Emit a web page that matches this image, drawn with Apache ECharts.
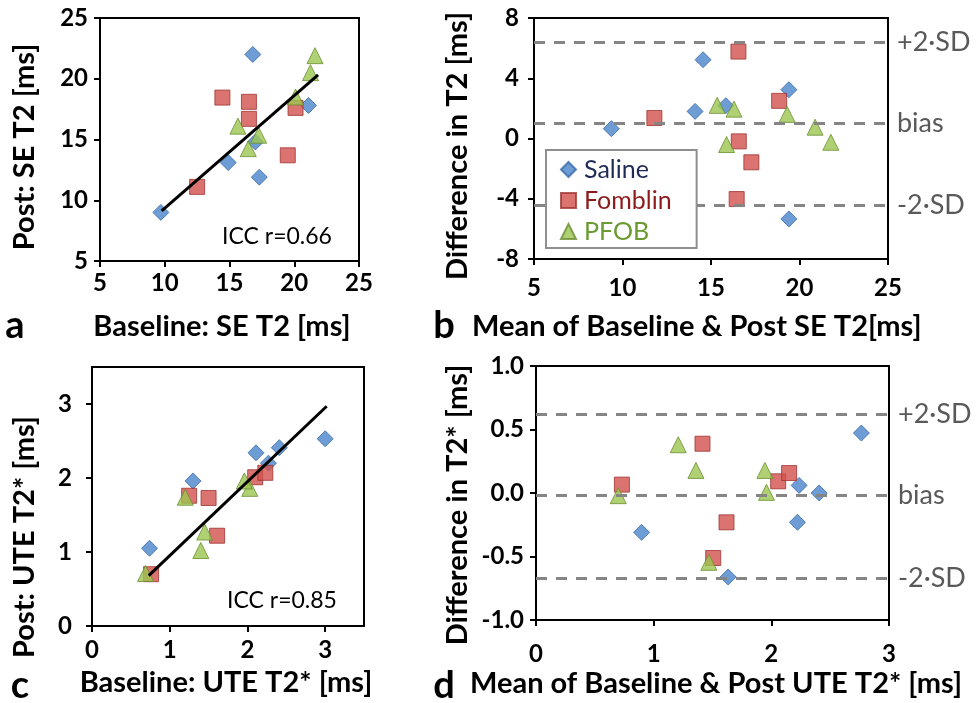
<!DOCTYPE html>
<html>
<head>
<meta charset="utf-8">
<script src="https://cdn.jsdelivr.net/npm/echarts@6/dist/echarts.min.js"></script>
<style>
  html, body { margin: 0; padding: 0; background: #fff; }
  #chart { width: 978px; height: 703px; }
</style>
</head>
<body>
<div id="chart"></div>
<script>
// panel a: baseline vs post SE T2 [ms]
var salineA = [[9.7, 9.0], [16.8, 22.0], [14.9, 13.1], [17.3, 11.9], [21.1, 17.8], [17.0, 14.8]];
var fomblinA = [[12.5, 11.1], [19.5, 13.7], [20.1, 17.6], [16.5, 16.7], [16.5, 18.1], [14.45, 18.45]];
var pfobA = [[16.45, 14.25], [17.25, 15.35], [20.1, 18.5], [15.65, 16.1], [21.25, 20.5], [21.6, 21.9]];
var fitA = [[9.76, 9.13], [21.84, 20.32]];

// panel b: mean vs difference, SE T2
var salineB = [[9.37, 0.65], [14.55, 5.23], [14.1, 1.8], [15.84, 2.18], [19.4, 3.24], [19.4, -5.34]];
var fomblinB = [[11.8, 1.36], [16.55, 5.77], [18.85, 2.5], [16.57, -0.19], [17.28, -1.58], [16.45, -4.02]];
var pfobB = [[15.35, 2.2], [16.3, 1.95], [19.3, 1.6], [15.88, -0.4], [20.88, 0.75], [21.77, -0.25]];
var limitsB = [6.41, 0.98, -4.44];

// panel c: baseline vs post UTE T2* [ms]
var salineC = [[0.74, 1.05], [1.3, 1.96], [2.11, 2.34], [2.27, 2.2], [2.41, 2.41], [3.0, 2.53]];
var fomblinC = [[0.76, 0.7], [1.61, 1.22], [1.5, 1.73], [1.25, 1.76], [2.1, 2.01], [2.23, 2.07]];
var pfobC = [[0.69, 0.71], [1.4, 1.02], [1.45, 1.27], [1.2, 1.74], [2.03, 1.86], [1.96, 1.96]];
var fitC = [[0.73, 0.68], [3.02, 2.97]];

// panel d: mean vs difference, UTE T2*
var salineD = [[0.897, -0.31], [1.633, -0.661], [2.222, -0.231], [2.236, 0.06], [2.406, 0.0], [2.765, 0.472]];
var fomblinD = [[0.73, 0.066], [1.415, 0.388], [1.619, -0.231], [1.506, -0.512], [2.058, 0.092], [2.151, 0.157]];
var pfobD = [[0.699, -0.021], [1.209, 0.38], [1.359, 0.178], [1.469, -0.546], [1.945, 0.178], [1.959, 0.005]];
var limitsD = [0.62, -0.021, -0.667];

var limitNames = ['+2\u00b7SD', 'bias', '-2\u00b7SD'];
var groupNames = ['Saline', 'Fomblin', 'PFOB'];
var groupText = ['#1f2a56', '#8c1c1c', '#6a9a30'];

var FONT = 'Lato, "DejaVu Sans", sans-serif';

var chart = echarts.init(document.getElementById('chart'));

function axis(idx, min, max, interval, margin, custom, fmt) {
    var a = {
        type: 'value',
        gridIndex: idx,
        min: min,
        max: max,
        interval: interval,
        splitLine: {show: false},
        axisLine: {onZero: false, lineStyle: {color: '#000', width: 2}},
        axisTick: {length: 6, lineStyle: {color: '#000', width: 2}},
        axisLabel: {
            margin: margin,
            color: '#000',
            fontFamily: FONT,
            fontWeight: 'bold',
            fontSize: 24
        }
    };
    if (fmt) a.axisLabel.formatter = fmt;
    if (custom) {
        a.axisTick.customValues = custom;
        a.axisLabel.customValues = custom;
    }
    return a;
}

var markerStyles = [
    {symbol: 'diamond', symbolSize: 16, itemStyle: {color: '#4a84cb', borderColor: '#3a6aa8', borderWidth: 1}},
    {symbol: 'rect', symbolSize: 15, itemStyle: {color: '#d2504d', borderColor: '#9e3431', borderWidth: 1}},
    {symbol: 'triangle', symbolSize: 16, itemStyle: {color: '#9cc650', borderColor: '#6a8f30', borderWidth: 1}}
];

function scatter(name, k, idx, data) {
    return {
        name: name,
        type: 'scatter',
        xAxisIndex: idx,
        yAxisIndex: idx,
        data: data,
        symbol: markerStyles[k].symbol,
        symbolSize: markerStyles[k].symbolSize,
        itemStyle: markerStyles[k].itemStyle,
        emphasis: {disabled: true}
    };
}

function fitLine(idx, data) {
    return {
        type: 'line',
        xAxisIndex: idx,
        yAxisIndex: idx,
        data: data,
        symbol: 'none',
        z: 5,
        lineStyle: {color: '#000', width: 3}
    };
}

function limitLines(idx, values) {
    return {
        type: 'line',
        xAxisIndex: idx,
        yAxisIndex: idx,
        data: [],
        z: 1,
        markLine: {
            silent: true,
            symbol: 'none',
            animation: false,
            lineStyle: {color: '#858585', width: 3, type: [11, 9]},
            label: {
                position: 'end',
                distance: 9,
                color: '#595959',
                fontFamily: FONT,
                fontSize: 27,
                padding: [10, 0, 0, 0],
                formatter: function (p) { return limitNames[p.dataIndex]; }
            },
            data: values.map(function (v) { return {yAxis: v}; })
        }
    };
}

function txt(text, x, y, size, opts) {
    opts = opts || {};
    return {
        type: 'text',
        x: x,
        y: y,
        rotation: opts.rot || 0,
        style: {
            text: text,
            fill: opts.color || '#000',
            font: (opts.weight || 'bold') + ' ' + size + 'px ' + FONT,
            align: opts.align || 'center',
            verticalAlign: 'middle'
        }
    };
}

var option = {
    animation: false,
    grid: [
        {left: 100, top: 18, width: 259, height: 243, show: true, borderColor: '#000', borderWidth: 2, outerBoundsMode: 'none'},
        {left: 534, top: 18, width: 354, height: 241, show: true, borderColor: '#000', borderWidth: 2, outerBoundsMode: 'none'},
        {left: 92, top: 367, width: 272, height: 259, show: true, borderColor: '#000', borderWidth: 2, outerBoundsMode: 'none'},
        {left: 536, top: 366, width: 353, height: 254, show: true, borderColor: '#000', borderWidth: 2, outerBoundsMode: 'none'}
    ],
    xAxis: [
        axis(0, 5, 25, 5, 10),
        axis(1, 5, 25, 5, 17),
        axis(2, 0, 3.5, 1, 12, [0, 1, 2, 3]),
        axis(3, 0, 3, 1, 22)
    ],
    yAxis: [
        axis(0, 5, 25, 5, 12),
        axis(1, -8, 8, 4, 15),
        axis(2, 0, 3.5, 1, 20, [0, 1, 2, 3]),
        axis(3, -1, 1, 0.5, 12, null, function (v) { return v.toFixed(1); })
    ],
    legend: {
        orient: 'vertical',
        left: 546,
        top: 150,
        z: 20,
        padding: [7, 25, 4, 14],
        itemGap: 6,
        itemWidth: 15,
        itemHeight: 15,
        backgroundColor: '#fff',
        borderColor: '#8f8f8f',
        borderWidth: 2,
        selectedMode: false,
        textStyle: {fontFamily: FONT, fontSize: 25, padding: [0, 0, 0, 3]},
        data: groupNames.map(function (n, i) {
            return {name: n, textStyle: {color: groupText[i]}};
        })
    },
    series: [
        scatter('Saline', 0, 0, salineA),
        scatter('Fomblin', 1, 0, fomblinA),
        scatter('PFOB', 2, 0, pfobA),
        fitLine(0, fitA),
        limitLines(1, limitsB),
        scatter('Saline', 0, 1, salineB),
        scatter('Fomblin', 1, 1, fomblinB),
        scatter('PFOB', 2, 1, pfobB),
        scatter('Saline', 0, 2, salineC),
        scatter('Fomblin', 1, 2, fomblinC),
        scatter('PFOB', 2, 2, pfobC),
        fitLine(2, fitC),
        limitLines(3, limitsD),
        scatter('Saline', 0, 3, salineD),
        scatter('Fomblin', 1, 3, fomblinD),
        scatter('PFOB', 2, 3, pfobD)
    ],
    graphic: [
        txt('Post: SE T2 [ms]', 25, 147, 29, {rot: Math.PI / 2}),
        txt('Baseline: SE T2 [ms]', 222, 327, 29),
        txt('a', 15, 326, 38),
        txt('ICC r=0.66', 277, 237, 23, {weight: 'normal'}),
        txt('Difference in T2 [ms]', 458, 146, 29, {rot: Math.PI / 2}),
        txt('b', 444, 326, 38),
        txt('Mean of Baseline & Post SE T2[ms]', 472, 327, 29, {align: 'left'}),
        txt('Post: UTE T2* [ms]', 25, 537, 29, {rot: Math.PI / 2}),
        txt('Baseline: UTE T2* [ms]', 226, 683, 29),
        txt('c', 20, 686, 38),
        txt('ICC r=0.85', 282, 601, 23, {weight: 'normal'}),
        txt('Difference in T2* [ms]', 458, 505, 29, {rot: Math.PI / 2}),
        txt('d', 444, 686, 38),
        txt('Mean of Baseline & Post UTE T2* [ms]', 470, 684, 29, {align: 'left'})
    ]
};

chart.setOption(option);
</script>
</body>
</html>
